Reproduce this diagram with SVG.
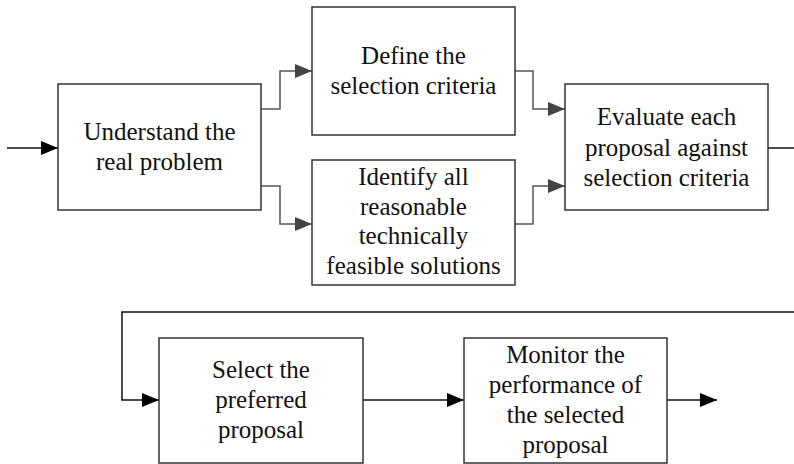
<svg xmlns="http://www.w3.org/2000/svg" width="794" height="464" viewBox="0 0 794 464">
<style>
.box{fill:#fff;stroke:#333;stroke-width:1.5}
.t{font-size:25px;fill:#111;text-anchor:middle}
.cg{fill:none;stroke:#555;stroke-width:1.5}
.ck{fill:none;stroke:#111;stroke-width:1.5}
</style>
<defs>
<marker id="ag" markerUnits="userSpaceOnUse" markerWidth="18" markerHeight="15" refX="17" refY="7" orient="auto">
<path d="M0,0 L17,7 L0,14 z" fill="#444"/>
</marker>
<marker id="ak" markerUnits="userSpaceOnUse" markerWidth="18" markerHeight="15" refX="17" refY="7" orient="auto">
<path d="M0,0 L17,7 L0,14 z" fill="#000"/>
</marker>
</defs>
<rect width="794" height="464" fill="#fff"/>
<g id="connectors">
<path class="ck" d="M7,148 H58" marker-end="url(#ak)"/>
<path class="cg" d="M261,109 H280 V71 H312" marker-end="url(#ag)"/>
<path class="cg" d="M261,186 H280 V224 H312" marker-end="url(#ag)"/>
<path class="cg" d="M515,71 H533 V109 H565" marker-end="url(#ag)"/>
<path class="cg" d="M515,224 H533 V186 H565" marker-end="url(#ag)"/>
<path class="ck" d="M768,148 H794"/>
<path class="ck" d="M794,312 H122 V400 H159" marker-end="url(#ak)"/>
<path class="ck" d="M363,400 H464" marker-end="url(#ak)"/>
<path class="ck" d="M667,400 H717" marker-end="url(#ak)"/>
</g>
<g id="nodes" font-family="'Liberation Serif', 'Times New Roman', Times, serif">
<g id="understand">
<rect class="box" x="58" y="84" width="203" height="126"/>
<text class="t" x="159.5" y="140">Understand the</text>
<text class="t" x="159.5" y="170">real problem</text>
</g>
<g id="define">
<rect class="box" x="312" y="7" width="203" height="128"/>
<text class="t" x="413.5" y="64">Define the</text>
<text class="t" x="413.5" y="94">selection criteria</text>
</g>
<g id="identify">
<rect class="box" x="312" y="160" width="203" height="125"/>
<text class="t" x="413.5" y="185">Identify all</text>
<text class="t" x="413.5" y="215">reasonable</text>
<text class="t" x="413.5" y="244">technically</text>
<text class="t" x="413.5" y="274">feasible solutions</text>
</g>
<g id="evaluate">
<rect class="box" x="565" y="84" width="203" height="126"/>
<text class="t" x="666.5" y="125">Evaluate each</text>
<text class="t" x="666.5" y="156">proposal against</text>
<text class="t" x="666.5" y="186">selection criteria</text>
</g>
<g id="select">
<rect class="box" x="159" y="338" width="204" height="125"/>
<text class="t" x="261" y="378">Select the</text>
<text class="t" x="261" y="408">preferred</text>
<text class="t" x="261" y="438">proposal</text>
</g>
<g id="monitor">
<rect class="box" x="464" y="338" width="203" height="125"/>
<text class="t" x="565.5" y="363">Monitor the</text>
<text class="t" x="565.5" y="393">performance of</text>
<text class="t" x="565.5" y="423">the selected</text>
<text class="t" x="565.5" y="453">proposal</text>
</g>
</g>
</svg>
